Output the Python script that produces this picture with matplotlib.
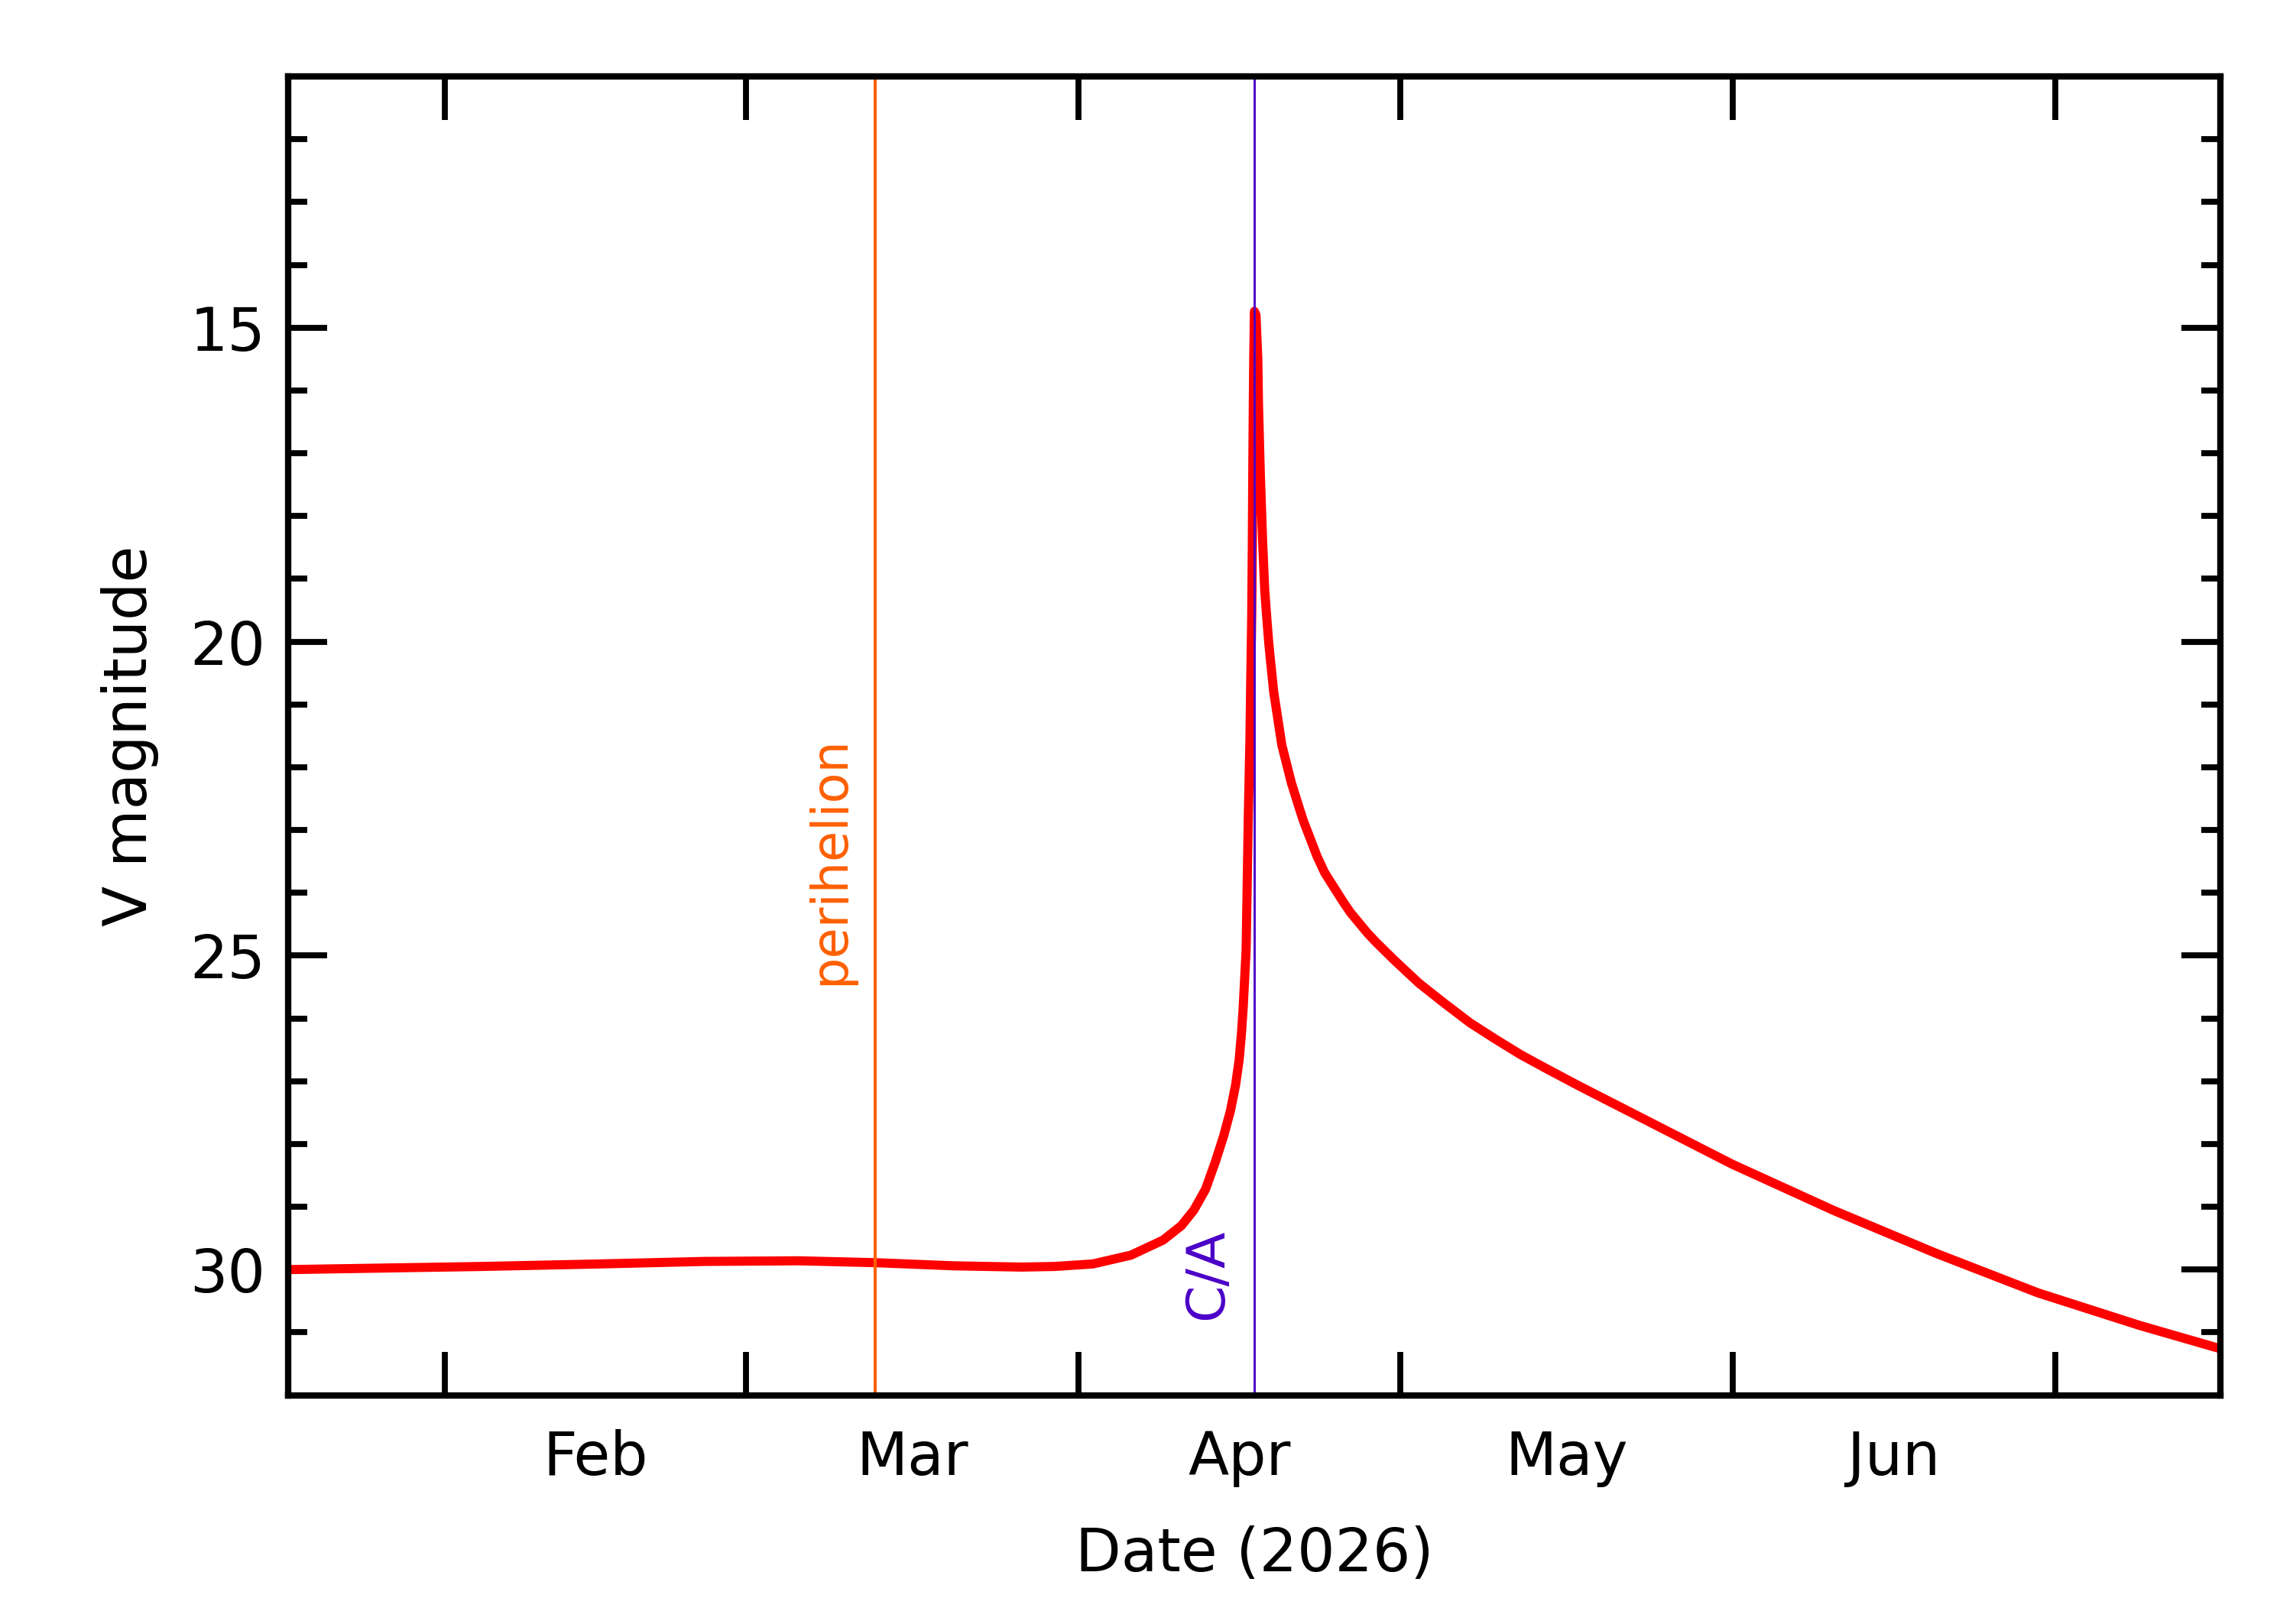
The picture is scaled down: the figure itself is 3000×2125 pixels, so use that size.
import numpy as np
import matplotlib
matplotlib.use("Agg")
import matplotlib.pyplot as plt
from matplotlib.ticker import MultipleLocator, NullFormatter

# ---------------- data ----------------
ca_date = "2026-04-17T09:36"          # close approach
perihelion_date = "2026-03-13T02:24"  # perihelion
window_days = 90                      # plotted span on each side of C/A

days_from_ca = [
    -90.0, -71.9, -61.0, -51.2, -42.4, -35.3, -28.0, -21.7, -18.6, -15.05,
    -11.5, -8.5, -6.8, -5.63, -4.55, -3.63, -2.86, -2.23, -1.75, -1.42,
    -1.21, -1.05, -0.77, -0.57, -0.42, -0.33, -0.25, -0.19, -0.15, -0.10,
    -0.06, 0.0,
    0.15, 0.32, 0.38, 0.55, 0.76, 0.96, 1.19, 1.33, 1.47, 1.80,
    2.56, 3.45, 4.18, 4.58, 5.84, 6.55, 8.22, 8.93, 10.58, 11.3,
    12.96, 15.34, 17.71, 20.09, 22.46, 24.84, 27.21, 30.3, 35.0, 44.5,
    54.0, 63.5, 73.0, 82.5, 90.0,
]
v_mag = [
    30.00, 29.95, 29.91, 29.87, 29.86, 29.89, 29.94, 29.96, 29.95, 29.91,
    29.77, 29.53, 29.30, 29.05, 28.72, 28.28, 27.87, 27.47, 27.06, 26.66,
    26.25, 25.85, 24.91, 22.80, 21.60, 20.50, 19.60, 18.40, 17.30, 16.20,
    15.50, 14.74,
    14.80, 15.50, 16.20, 17.31, 18.37, 19.17, 19.70, 20.00, 20.25, 20.80,
    21.65, 22.25, 22.65, 22.86, 23.42, 23.68, 24.13, 24.31, 24.65, 24.78,
    25.06, 25.44, 25.76, 26.07, 26.33, 26.58, 26.80, 27.08, 27.49, 28.32,
    29.06, 29.74, 30.37, 30.89, 31.26,
]

month_starts = ["2026-02-01", "2026-03-01", "2026-04-01",
                "2026-05-01", "2026-06-01", "2026-07-01"]
month_labels = ["Feb", "Mar", "Apr", "May", "Jun"]
y_major_ticks = [15, 20, 25, 30]
y_limits = (32, 11)

# ---------------- style ----------------
plt.rcParams["font.family"] = ["DejaVu Sans"]
RED = "#ff0000"
ORANGE = "#ff6000"
PURPLE = "#4b00c8"
FS = 28

fig = plt.figure(figsize=(15, 10.625), dpi=200)
ax = fig.add_axes([0.1258, 0.1409, 0.8425, 0.8120])

ca = np.datetime64(ca_date)
peri = np.datetime64(perihelion_date)
sec = (np.array(days_from_ca) * 86400).round().astype("timedelta64[s]")
x_dates = ca + sec

ax.plot(x_dates, v_mag, color=RED, lw=4.3, solid_joinstyle="round",
        solid_capstyle="round", zorder=2)

ax.axvline(peri, color=ORANGE, lw=1.45, zorder=3)
ax.axvline(ca, color=PURPLE, lw=1.05, zorder=3)

ax.annotate("perihelion", xy=(peri, 25.47), xytext=(-15, 0),
            textcoords="offset points", rotation=90, rotation_mode="anchor",
            ha="left", va="baseline", fontsize=23.5, color=ORANGE)
ax.annotate("C/A", xy=(ca, 30.80), xytext=(-15, 0),
            textcoords="offset points", rotation=90, rotation_mode="anchor",
            ha="left", va="baseline", fontsize=25, color=PURPLE)

half = np.timedelta64(window_days, "D")
ax.set_xlim(ca - half, ca + half)
ax.set_ylim(*y_limits)

# x ticks: month starts (unlabelled), labels at mid-month
starts = np.array(month_starts, dtype="datetime64[s]")
mids = starts[:-1] + (starts[1:] - starts[:-1]) / 2
ax.set_xticks(starts)
ax.xaxis.set_major_formatter(NullFormatter())
ax.set_xticks(mids, minor=True)
ax.set_xticklabels(month_labels, minor=True)

ax.set_yticks(y_major_ticks)
ax.set_yticklabels([str(v) for v in y_major_ticks])
ax.yaxis.set_minor_locator(MultipleLocator(1))

ax.tick_params(axis="both", which="both", direction="in", top=True,
               right=True, colors="black", labelsize=FS)
ax.tick_params(axis="x", which="major", length=20.5, width=2.8)
ax.tick_params(axis="x", which="minor", length=0, pad=16)
ax.tick_params(axis="y", which="major", length=18.4, width=2.8, pad=11)
ax.tick_params(axis="y", which="minor", length=9, width=2.8)

for sp in ax.spines.values():
    sp.set_linewidth(3.0)
    sp.set_zorder(5)

ax.set_xlabel("Date (2026)", fontsize=FS)
ax.set_ylabel("V magnitude", fontsize=FS)
ax.xaxis.set_label_coords(0.5, -0.099)
ax.yaxis.set_label_coords(-0.067, 0.5)

fig.savefig("out.png", dpi=200, facecolor="white")
